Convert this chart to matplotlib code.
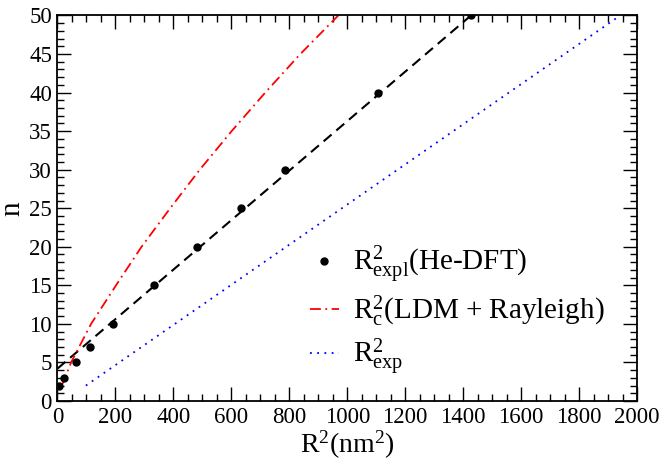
import matplotlib
matplotlib.use('Agg')
import matplotlib.pyplot as plt
from matplotlib.ticker import MultipleLocator

plt.rcParams['font.family'] = ['Liberation Serif', 'DejaVu Serif']
plt.rcParams['mathtext.fontset'] = 'custom'
plt.rcParams['mathtext.rm'] = 'Liberation Serif'
plt.rcParams['mathtext.it'] = 'Liberation Serif:italic'

# He-DFT points: R^2 (nm^2) vs n
dft_r2 = [5, 23, 65, 113, 192, 333, 481, 633, 785, 1105, 1427]
dft_n = [2, 3, 5, 7, 10, 15, 20, 25, 30, 40, 50]

# linear fit through the DFT points
fit_r2 = [0, 1427]
fit_n = [4.2, 50]

# LDM + Rayleigh critical radius
ldm_r2 = [15, 47, 116, 202, 290, 389, 491, 601, 717, 838, 969]
ldm_n = [2, 5, 10, 15, 20, 25, 30, 35, 40, 45, 50]

# R_exp
exp_r2 = [98, 1942]
exp_n = [2, 50]

fig = plt.figure(figsize=(6.63, 4.68), dpi=100)
ax = fig.add_axes([0.0867, 0.1432, 0.8741, 0.8237])

ax.plot(dft_r2, dft_n, 'o', color='black', ms=5, zorder=3,
        label=r'$\mathrm{R}^2_{\mathrm{expl}}$(He-DFT)')
ax.plot(fit_r2, fit_n, color='black', lw=1.5, ls=(0, (5, 3)))
ax.plot(ldm_r2, ldm_n, color='red', lw=1.3, ls=(0, (6, 2.5, 1, 2.5)),
        label=r'$\mathrm{R}^2_{\mathrm{c}}$(LDM + Rayleigh)')
ax.plot(exp_r2, exp_n, color='blue', lw=1.3, ls=(0, (1, 3)),
        label=r'$\mathrm{R}^2_{\mathrm{exp}}$')

ax.set_xlim(0, 2000)
ax.set_ylim(0, 50)
ax.xaxis.set_major_locator(MultipleLocator(200))
ax.xaxis.set_minor_locator(MultipleLocator(50))
ax.yaxis.set_major_locator(MultipleLocator(5))
ax.yaxis.set_minor_locator(MultipleLocator(1))
ax.tick_params(which='both', direction='in', top=True, right=True, width=1)
ax.tick_params(which='major', length=10, labelsize=16.5, pad=4)
ax.tick_params(which='minor', length=5)
for s in ax.spines.values():
    s.set_linewidth(1.3)

ax.set_xlabel(r'$\mathrm{R}^2$(nm$^2$)', fontsize=20, labelpad=1)
ax.set_ylabel('n', fontsize=21, labelpad=3)

ax.legend(loc='upper left', bbox_to_anchor=(0.415, 0.437), frameon=False,
          fontsize=21, handlelength=1.0, handletextpad=0.5,
          labelspacing=0.25, borderaxespad=0)

fig.savefig('out.png', dpi=100)
